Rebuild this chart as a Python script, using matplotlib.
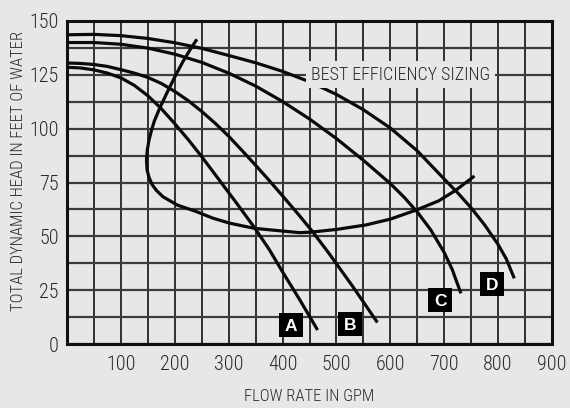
import matplotlib
matplotlib.use("Agg")
import matplotlib.pyplot as plt
import numpy as np

# ---------------- data ----------------
flow_a = [0, 25, 50, 75, 100, 125, 150, 175, 200, 225, 250, 280, 315, 348, 375, 400, 432, 465]
head_a = [128.5, 128.2, 127.3, 125.8, 123.6, 120.1, 115.3, 109.3, 102.3, 94.9, 87.0, 77.0, 65.3, 54.0, 44.0, 33.5, 20.5, 6.5]

flow_b = [0, 25, 50, 75, 100, 125, 150, 175, 200, 225, 250, 275, 300, 325, 350, 375, 400, 431, 455, 487, 530, 576]
head_b = [130.5, 130.3, 129.8, 128.9, 127.4, 125.8, 123.8, 121.0, 117.3, 113.0, 108.0, 102.5, 96.5, 89.8, 83.0, 76.0, 68.8, 59.7, 52.4, 41.8, 26.8, 10.0]

flow_c = [0, 50, 100, 150, 200, 250, 300, 350, 400, 450, 500, 550, 600, 625, 650, 675, 700, 715, 731]
head_c = [140.0, 140.0, 139.2, 137.4, 134.6, 130.8, 125.8, 119.8, 112.6, 104.5, 95.4, 85.3, 74.5, 68.3, 61.3, 53.0, 42.5, 34.5, 23.5]

flow_d = [0, 50, 100, 150, 200, 250, 300, 350, 400, 450, 500, 550, 600, 650, 700, 725, 750, 775, 800, 815, 830]
head_d = [143.6, 143.8, 143.2, 141.9, 139.9, 137.3, 134.0, 130.6, 126.6, 121.8, 115.9, 108.8, 100.3, 89.7, 76.6, 70.2, 63.2, 55.3, 46.2, 39.6, 30.5]

# best efficiency curve (traced along its path)
eff_flow = [241, 228, 215, 200, 185, 172, 162, 157, 152, 149, 147.5, 148.5, 152, 158, 166, 178, 205, 240, 270, 302, 348, 394, 432, 455, 500, 555, 600, 648, 690, 722, 756]
eff_head = [141.5, 136.5, 131.1, 124.0, 116.4, 109.5, 103.5, 99.4, 94.5, 90.0, 85.5, 81.0, 77.5, 74.0, 71.3, 68.4, 64.5, 61.5, 58.5, 56.1, 53.7, 52.6, 51.7, 52.0, 53.2, 55.3, 58.0, 62.2, 66.5, 71.5, 78.0]

curve_names = ["A", "B", "C", "D"]
label_flow = [415, 526, 693, 788]
label_head = [8.8, 9.3, 20.3, 27.9]

x_tick_values = [100, 200, 300, 400, 500, 600, 700, 800, 900]
x_tick_labels = ["100", "200", "300", "400", "500", "600", "700", "800", "900"]
y_tick_values = [0, 25, 50, 75, 100, 125, 150]
y_tick_labels = ["0", "25", "50", "75", "100", "125", "150"]

eff_text = "BEST EFFICIENCY SIZING"
eff_text_pos = (619, 125)
x_title = "FLOW RATE IN GPM"
y_title = "TOTAL DYNAMIC HEAD IN FEET OF WATER"

# ---------------- style ----------------
BG = "#e6e7e9"
FONT = ["Roboto Condensed", "Barlow Condensed", "Archivo Narrow", "Liberation Sans Narrow", "DejaVu Sans"]
TXT = "#2a2a2a"

fig = plt.figure(figsize=(5.7, 4.08), dpi=100, facecolor=BG)
ax = fig.add_axes([67 / 570, (408 - 344) / 408, (552 - 67) / 570, (344 - 21) / 408])
ax.set_facecolor(BG)
ax.set_xlim(0, 900)
ax.set_ylim(0, 150)

ax.set_xticks(x_tick_values, x_tick_labels)
ax.set_xticks(np.arange(0, 901, 50), minor=True)
ax.set_yticks(y_tick_values, y_tick_labels)
ax.set_yticks(np.arange(0, 150.1, 12.5), minor=True)
ax.tick_params(which="both", length=0)
ax.tick_params(axis="x", pad=8)
ax.tick_params(axis="y", pad=6)
for lab in ax.get_xticklabels() + ax.get_yticklabels():
    lab.set_family(FONT)
    lab.set_fontsize(14.5)
    lab.set_fontweight("light")
    lab.set_color(TXT)
for lab in ax.get_yticklabels():
    lab.set_va("center_baseline")

ax.set_axisbelow(True)
ax.grid(which="both", axis="x", color="#222222", lw=1.3)
ax.grid(which="both", axis="y", color="#3c3c3c", lw=1.6)
for s in ax.spines.values():
    s.set_linewidth(2.2)
    s.set_color("#111111")

lw = 2.3
for fx, hy in [(flow_a, head_a), (flow_b, head_b), (flow_c, head_c), (flow_d, head_d)]:
    ax.plot(fx, hy, color="#0a0a0a", lw=lw, solid_capstyle="butt", solid_joinstyle="round", zorder=3)
ax.plot(eff_flow, eff_head, color="#0a0a0a", lw=lw, solid_capstyle="butt", solid_joinstyle="round", zorder=3)

ax.text(eff_text_pos[0], eff_text_pos[1], eff_text, family=FONT, fontsize=13, fontweight="light",
        color=TXT, ha="center", va="center", zorder=4,
        bbox=dict(boxstyle="square,pad=0.25", facecolor=BG, edgecolor="none"))

ax.scatter(label_flow, label_head, marker="s", s=280, color="black", zorder=5, linewidths=0)
for name, fx, hy in zip(curve_names, label_flow, label_head):
    ax.text(fx, hy, name, color="white", fontsize=12.5, fontweight="bold",
            family=["Liberation Sans", "DejaVu Sans"], ha="center", va="center_baseline", zorder=6)

ax.set_xlabel(x_title, family=FONT, fontsize=12, fontweight="light", color=TXT, labelpad=11)
ax.set_ylabel(y_title, family=FONT, fontsize=12, fontweight="light", color=TXT)
ax.yaxis.set_label_coords(-0.084, 0.536)

fig.savefig("out.png", dpi=100, facecolor=BG)
